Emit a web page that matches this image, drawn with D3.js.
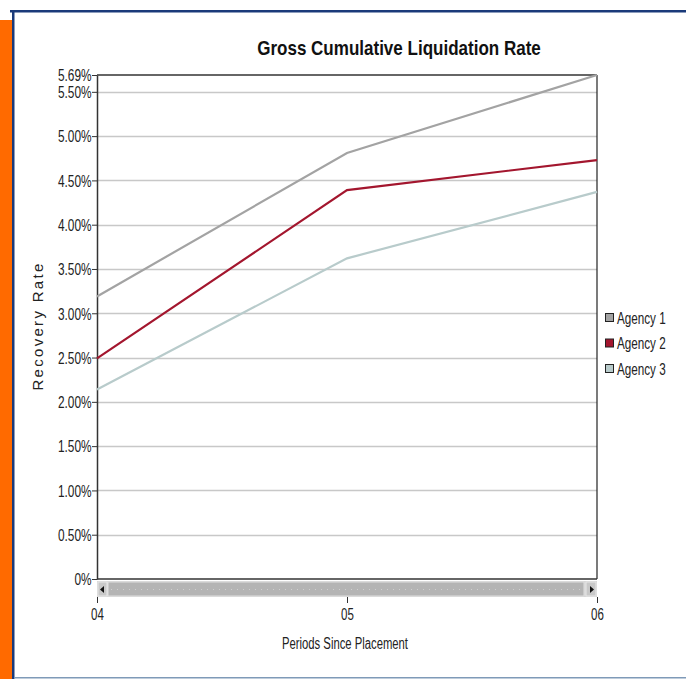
<!DOCTYPE html>
<html><head><meta charset="utf-8">
<script src="https://cdn.jsdelivr.net/npm/d3@7"></script>
<style>
body{margin:0;background:#fff;}
svg{display:block;}
</style></head>
<body>
<svg id="chart" width="686" height="679"></svg>
<script>
const periods = ["04", "05", "06"];
const seriesNames = ["Agency 1", "Agency 2", "Agency 3"];
const agency1 = [3.19, 4.81, 5.69];
const agency2 = [2.49, 4.39, 4.73];
const agency3 = [2.14, 3.62, 4.37];
const yTicks = [0, 0.5, 1, 1.5, 2, 2.5, 3, 3.5, 4, 4.5, 5, 5.5, 5.69];
const yTickLabels = ["0%", "0.50%", "1.00%", "1.50%", "2.00%", "2.50%", "3.00%", "3.50%", "4.00%", "4.50%", "5.00%", "5.50%", "5.69%"];
const colors = ["#a3a3a3", "#a3162e", "#b8cbcb"];
const titleText = "Gross Cumulative Liquidation Rate";
const yTitle = "Recovery Rate";
const xTitle = "Periods Since Placement";

const svg = d3.select("#chart");
const font = "'Liberation Sans', Arial, sans-serif";

// compress text horizontally (narrow look)
function squeeze(sel, factor) {
  sel.each(function () {
    const w = this.getComputedTextLength();
    d3.select(this).attr("textLength", w * factor).attr("lengthAdjust", "spacingAndGlyphs");
  });
}

// frame
svg.append("rect").attr("x", 0).attr("y", 20).attr("width", 12).attr("height", 659).attr("fill", "#ff6a00");
svg.append("rect").attr("x", 10).attr("y", 10).attr("width", 676).attr("height", 2.5).attr("fill", "#1a3a7a");
svg.append("rect").attr("x", 12).attr("y", 10).attr("width", 2.5).attr("height", 669).attr("fill", "#1a3a7a");
svg.append("rect").attr("x", 14).attr("y", 677).attr("width", 672).attr("height", 1.5).attr("fill", "#7f9ab8");

const L = 97, R = 597, T = 75, B = 579;
const x = d3.scalePoint().domain(periods).range([L, R]);
const y = d3.scaleLinear().domain([0, 5.69]).range([B, T]);

// gridlines
svg.append("g").selectAll("line").data(yTicks.filter(d => d > 0 && d < 5.69)).join("line")
  .attr("x1", L).attr("x2", R).attr("y1", d => Math.round(y(d)) + 0.5).attr("y2", d => Math.round(y(d)) + 0.5)
  .attr("stroke", "#c8c8c8").attr("stroke-width", 1.5);

// plot border top/right
svg.append("line").attr("x1", L).attr("x2", R).attr("y1", T).attr("y2", T).attr("stroke", "#333").attr("stroke-width", 1.5);
svg.append("line").attr("x1", R).attr("x2", R).attr("y1", T).attr("y2", B).attr("stroke", "#222").attr("stroke-width", 1.2);

// y axis
const yAxis = d3.axisLeft(y).tickValues(yTicks).tickFormat((d, i) => yTickLabels[i]).tickSize(5).tickSizeOuter(0);
const gy = svg.append("g").attr("transform", `translate(${L},0)`).call(yAxis);
gy.select(".domain").attr("stroke", "#333").attr("stroke-width", 1.5);
gy.selectAll(".tick line").attr("stroke", "#333");
gy.selectAll("text").attr("font-family", font).attr("font-size", 16).attr("fill", "#222").attr("x", -5.5).attr("dy", "0.36em");
squeeze(gy.selectAll("text"), 0.74);

// bottom axis line
svg.append("line").attr("x1", L).attr("x2", R).attr("y1", B).attr("y2", B).attr("stroke", "#333").attr("stroke-width", 1.5);

// scrollbar
const sbY = 581, sbH = 16;
svg.append("rect").attr("x", L).attr("y", sbY).attr("width", R - L).attr("height", sbH).attr("fill", "#d4d4d4");
svg.append("rect").attr("x", L + 11).attr("y", sbY + 1).attr("width", R - L - 24).attr("height", sbH - 2).attr("fill", "#b4b4b4").attr("stroke", "#e0e0e0");
svg.append("line").attr("x1", L + 14).attr("x2", R - 16).attr("y1", sbY + 8.5).attr("y2", sbY + 8.5).attr("stroke", "#cfcfcf").attr("stroke-dasharray", "1,5");
svg.append("rect").attr("x", L + 1).attr("y", sbY + 1).attr("width", 9).attr("height", sbH - 2).attr("fill", "#c8c8c8").attr("stroke", "#e8e8e8");
svg.append("rect").attr("x", R - 11).attr("y", sbY + 1).attr("width", 10).attr("height", sbH - 2).attr("fill", "#c8c8c8").attr("stroke", "#e8e8e8");
svg.append("path").attr("d", `M${L + 7},${sbY + 5}L${L + 3},${sbY + 8.5}L${L + 7},${sbY + 12}Z`).attr("fill", "#111");
svg.append("path").attr("d", `M${R - 7},${sbY + 5}L${R - 3},${sbY + 8.5}L${R - 7},${sbY + 12}Z`).attr("fill", "#111");

// x axis
const xAxis = d3.axisBottom(x).tickSize(6).tickSizeOuter(0);
const gx = svg.append("g").attr("transform", `translate(0,${sbY + sbH})`).call(xAxis);
gx.select(".domain").remove();
gx.selectAll(".tick line").attr("stroke", "#333");
gx.selectAll("text").attr("font-family", font).attr("font-size", 16).attr("fill", "#222").attr("y", 12).attr("dy", "0.71em");
squeeze(gx.selectAll("text"), 0.72);

// lines
const data = [agency1, agency2, agency3];
const line = d3.line().x((d, i) => x(periods[i])).y(d => y(d));
svg.append("g").selectAll("path").data(data).join("path")
  .attr("d", line).attr("fill", "none").attr("stroke", (d, i) => colors[i]).attr("stroke-width", 2.2);

// titles
const tt = svg.append("text").attr("x", 399).attr("y", 55).attr("text-anchor", "middle")
  .attr("font-family", font).attr("font-weight", "bold").attr("font-size", 20.5).attr("fill", "#111").text(titleText);
squeeze(tt, 0.83);
svg.append("text").attr("transform", "translate(43,326) rotate(-90)").attr("text-anchor", "middle")
  .attr("font-family", font).attr("font-size", 15).attr("letter-spacing", 2.3).attr("fill", "#222").text(yTitle);
const xt = svg.append("text").attr("x", 345).attr("y", 649).attr("text-anchor", "middle")
  .attr("font-family", font).attr("font-size", 16).attr("fill", "#222").text(xTitle);
squeeze(xt, 0.705);

// legend
const lg = svg.append("g").selectAll("g").data(seriesNames).join("g")
  .attr("transform", (d, i) => `translate(605,${313 + i * 25.5})`);
lg.append("rect").attr("x", 0.5).attr("y", 0.5).attr("width", 8).attr("height", 8)
  .attr("fill", (d, i) => colors[i]).attr("stroke", "#222");
const lt = lg.append("text").attr("x", 12).attr("y", 10.5).attr("font-family", font).attr("font-size", 16).attr("fill", "#222").text(d => d);
squeeze(lt, 0.73);
</script>
</body></html>
